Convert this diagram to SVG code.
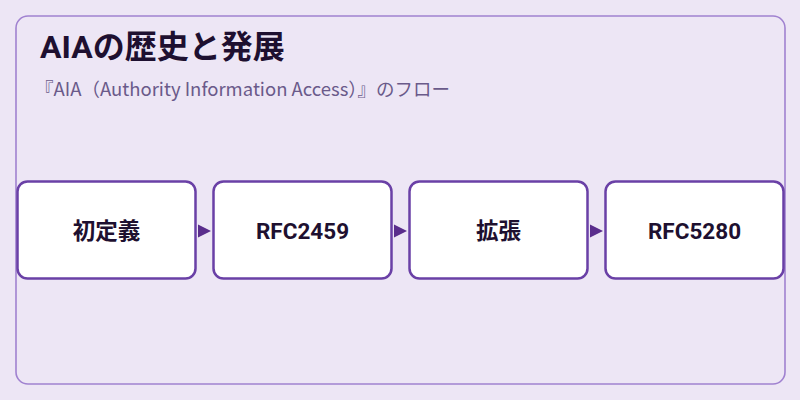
<svg xmlns="http://www.w3.org/2000/svg" width="800" height="400" viewBox="0 0 800 400">
<defs>
<style>
.frame{fill:#ede6f5;stroke:#a082d0;stroke-width:1.6}
.node rect{fill:#ffffff;stroke:#6a40a6;stroke-width:2.5}
.node text{font-family:"Roboto","Noto Sans CJK JP",sans-serif;font-weight:bold;font-size:22.5px;fill:#1e1030;text-anchor:middle}
.title{font-family:"Roboto","Noto Sans CJK JP",sans-serif;font-weight:bold;font-size:32px;fill:#1e1030}
.sub{font-family:"Noto Sans CJK JP",sans-serif;font-size:18.5px;fill:#6a5a8a}
.arrow{fill:#5a2d8c}
</style>
</defs>
<rect width="800" height="400" fill="#ede6f5"/>
<rect class="frame" x="16" y="16" width="769" height="368" rx="12"/>
<text class="title" x="40" y="58">AIAの歴史と発展</text>
<text class="sub" x="35" y="96">『AIA（Authority Information Access）』のフロー</text>
<g id="connectors">
<path class="arrow" d="M198,224.5 L211,231 L198,237.5 Z"/>
<path class="arrow" d="M394,224.5 L407,231 L394,237.5 Z"/>
<path class="arrow" d="M590,224.5 L603,231 L590,237.5 Z"/>
</g>
<g id="node1" class="node"><rect x="17.5" y="181.5" width="178" height="97" rx="10"/><text x="106.5" y="239">初定義</text></g>
<g id="node2" class="node"><rect x="213.5" y="181.5" width="178" height="97" rx="10"/><text x="302.5" y="239">RFC2459</text></g>
<g id="node3" class="node"><rect x="409.5" y="181.5" width="178" height="97" rx="10"/><text x="498.5" y="239">拡張</text></g>
<g id="node4" class="node"><rect x="605.5" y="181.5" width="178" height="97" rx="10"/><text x="694.5" y="239">RFC5280</text></g>
</svg>
